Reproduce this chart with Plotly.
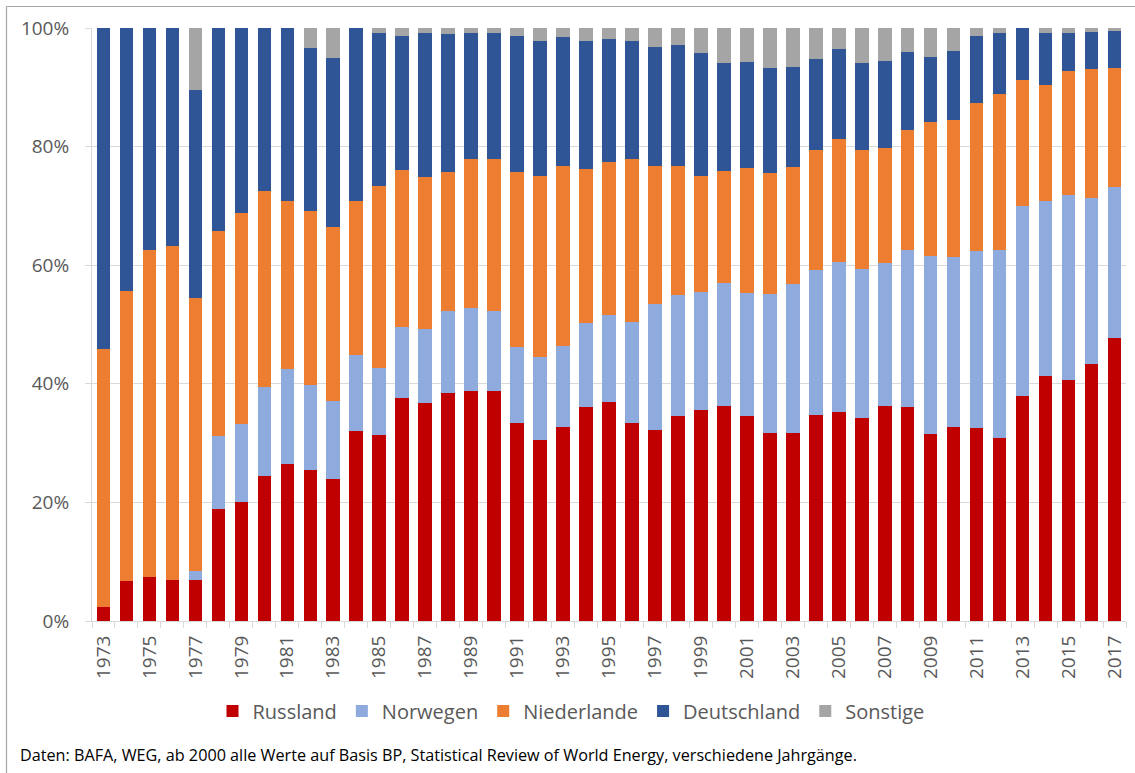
import plotly.graph_objects as go

years = list(range(1973, 2018))

russland = [2.3, 6.8, 7.5, 6.9, 6.9, 18.9, 20.1, 24.4, 26.4, 25.4, 24.0,
            32.0, 31.4, 37.6, 36.7, 38.4, 38.8, 38.8, 33.4, 30.6, 32.7, 36.1,
            37.0, 33.4, 32.2, 34.5, 35.6, 36.2, 34.6, 31.7, 31.7, 34.8, 35.2,
            34.2, 36.2, 36.1, 31.5, 32.8, 32.5, 30.8, 38.0, 41.3, 40.6, 43.4, 47.8]
norwegen = [0.0, 0.0, 0.0, 0.0, 1.5, 12.3, 13.2, 15.0, 16.1, 14.4, 13.1,
            12.8, 11.2, 11.9, 12.5, 13.9, 13.9, 13.4, 12.8, 14.0, 13.6, 14.1,
            14.6, 17.1, 21.2, 20.5, 19.9, 20.8, 20.7, 23.5, 25.2, 24.4, 25.4,
            25.2, 24.2, 26.4, 30.1, 28.6, 29.9, 31.8, 32.0, 29.5, 31.3, 28.0, 25.4]
niederlande = [43.5, 48.8, 55.0, 56.3, 46.0, 34.6, 35.5, 33.1, 28.4, 29.4, 29.4,
               26.0, 30.7, 26.6, 25.7, 23.4, 25.2, 25.7, 29.5, 30.4, 30.5, 26.1,
               25.8, 27.4, 23.3, 21.8, 19.5, 18.9, 21.1, 20.4, 19.7, 20.3, 20.6,
               20.1, 19.4, 20.3, 22.5, 23.1, 25.0, 26.2, 21.3, 19.6, 20.8, 21.7, 20.0]
deutschland = [54.2, 44.4, 37.5, 36.8, 35.1, 34.2, 31.2, 27.5, 29.1, 27.4, 28.5,
               29.2, 25.9, 22.6, 24.3, 23.3, 21.3, 21.3, 22.9, 22.8, 21.7, 21.5,
               20.7, 19.9, 20.1, 20.3, 20.8, 18.2, 17.8, 17.6, 16.9, 15.2, 15.3,
               14.6, 14.7, 13.1, 11.0, 11.6, 11.2, 10.3, 8.7, 8.8, 6.4, 6.2, 6.3]
sonstige = [0.0, 0.0, 0.0, 0.0, 10.5, 0.0, 0.0, 0.0, 0.0, 3.4, 5.0,
            0.0, 0.8, 1.3, 0.8, 1.0, 0.8, 0.8, 1.4, 2.2, 1.5, 2.2,
            1.9, 2.2, 3.2, 2.9, 4.2, 5.9, 5.8, 6.8, 6.5, 5.3, 3.5,
            5.9, 5.5, 4.1, 4.9, 3.9, 1.4, 0.9, 0.0, 0.8, 0.9, 0.7, 0.5]

series_names = ["Russland", "Norwegen", "Niederlande", "Deutschland", "Sonstige"]
series_values = [russland, norwegen, niederlande, deutschland, sonstige]
colors = ["#C00000", "#8FAADC", "#ED7D31", "#2F5597", "#A5A5A5"]

y_ticks = [0, 20, 40, 60, 80, 100]
y_tick_labels = ["0%", "20%", "40%", "60%", "80%", "100%"]

footer = ("Daten: BAFA, WEG, ab 2000 alle Werte auf Basis BP, Statistical Review "
          "of World Energy, verschiedene Jahrgänge.")

fig = go.Figure()
for name, vals, col in zip(series_names, series_values, colors):
    fig.add_trace(go.Bar(x=years, y=vals, name=name,
                         marker=dict(color=col, line=dict(width=0))))

W, H = 1135, 773
L, R, T, B = 92, 9, 28, 152
pw, ph = W - L - R, H - T - B

def px_x(p):
    return (p - L) / pw

def px_y(p):
    return (H - B - p) / ph

grid = "#D9D9D9"
fig.update_layout(
    width=W, height=H,
    margin=dict(l=L, r=R, t=T, b=B, pad=0),
    barmode="stack", bargap=0.41,
    paper_bgcolor="white", plot_bgcolor="white",
    font=dict(family="Open Sans", size=19, color="#595959"),
    showlegend=True,
    legend=dict(orientation="h", x=px_x(571), xanchor="center",
                y=px_y(711), yanchor="middle", traceorder="normal",
                font=dict(size=20, color="#595959"), bgcolor="rgba(0,0,0,0)"),
    xaxis=dict(range=[1972.5, 2017.5], tickmode="array",
               tickvals=years[::2], ticktext=[str(y) for y in years[::2]],
               tickangle=-90, ticks="", showgrid=False, zeroline=False,
               showline=True, linecolor=grid, linewidth=1,
               ticklabelstandoff=6,
               minor=dict(tickmode="array",
                          tickvals=[y - 0.5 for y in years] + [years[-1] + 0.5],
                          ticks="outside", ticklen=6, tickcolor=grid, tickwidth=1,
                          showgrid=False)),
    yaxis=dict(range=[0, 100], tickmode="array", tickvals=y_ticks,
               ticktext=y_tick_labels, showgrid=True, gridcolor=grid, gridwidth=1,
               zeroline=False, showline=True, linecolor=grid, linewidth=1,
               ticks="outside", ticklen=6, tickcolor=grid,
               ticklabelstandoff=12),
)

fig.add_annotation(text=footer, xref="paper", yref="paper",
                   x=px_x(18), y=px_y(755), xanchor="left", yanchor="middle",
                   showarrow=False, font=dict(size=16.2, color="#000000"))

border = "#A6A6A6"
fig.add_shape(type="line", xref="paper", yref="paper", layer="above",
              x0=px_x(6.5), x1=px_x(1140), y0=px_y(6.5), y1=px_y(6.5),
              line=dict(color=border, width=1.2))
fig.add_shape(type="line", xref="paper", yref="paper", layer="above",
              x0=px_x(6.5), x1=px_x(6.5), y0=px_y(6.5), y1=px_y(780),
              line=dict(color=border, width=1.2))

fig.write_html("out.html", config={"displayModeBar": False},
               post_script="document.body.style.margin='0px';")
